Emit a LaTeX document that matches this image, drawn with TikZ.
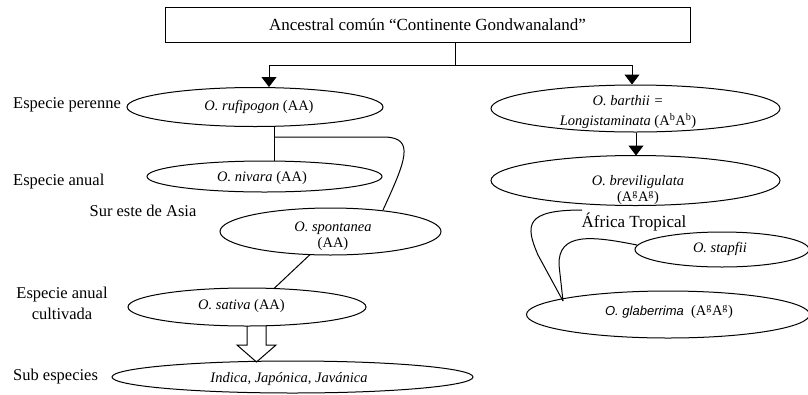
\documentclass[tikz,border=0pt]{standalone}
\usepackage{fontspec}
\setmainfont{Liberation Serif}
\setsansfont{Liberation Sans}
\usetikzlibrary{arrows.meta,shapes.geometric,calc}
\tikzset{
  ell/.style={draw, ellipse, inner sep=0pt, line width=1pt},
  lbl/.style={font=\fontsize{16.5}{21}\selectfont, inner sep=0pt},
  etxt/.style={font=\fontsize{14.5}{16}\selectfont, inner sep=0pt, align=center},
  conn/.style={line width=1pt},
  arr/.style={line width=1pt, -{Triangle[width=15pt,length=10pt]}},
}
\begin{document}
\begin{tikzpicture}[x=1pt,y=-1pt]
\useasboundingbox (0,0) rectangle (808,394);
\clip (0,0) rectangle (808,394);
% top box
\node[draw, line width=1pt, minimum width=525pt, minimum height=35pt, inner sep=0pt,
      font=\fontsize{17}{20}\selectfont] (box) at (427.5,24.5) {Ancestral común “Continente Gondwanaland”};
% ellipses
\node[ell, minimum width=256pt, minimum height=39pt] (ruf) at (255,107) {};
\node[ell, minimum width=235pt, minimum height=31pt] (niv) at (264.5,176.5) {};
\node[ell, minimum width=221pt, minimum height=47pt] (spo) at (330.5,231.5) {};
\node[ell, minimum width=238pt, minimum height=38pt] (sat) at (247,307) {};
\node[ell, minimum width=361pt, minimum height=32pt] (sub) at (292.5,377) {};
\node[ell, minimum width=289pt, minimum height=47pt] (bar) at (635.5,108.5) {};
\node[ell, minimum width=289pt, minimum height=50pt] (bre) at (635.5,180.5) {};
\node[ell, minimum width=174pt, minimum height=35pt] (sta) at (722,249.5) {};
\node[ell, minimum width=283pt, minimum height=47pt] (gla) at (668,314.5) {};
% ellipse texts
\node[etxt] (tRuf) at (259,107) {\textit{O. rufipogon} (AA)};
\node[etxt] (tNiv) at (262,178) {\textit{O. nivara} (AA)};
\node[etxt] (tSpo) at (333,236) {\textit{O. spontanea}\\(AA)};
\node[etxt] (tSat) at (241.5,306) {\textit{O. sativa} (AA)};
\node[etxt] (tSub) at (289,379) {\textit{Indica, Japónica, Javánica}};
\node[etxt, font=\fontsize{14.5}{20}\selectfont] (tBar) at (628,112) {\textit{O. barthii =}\\\textit{Longistaminata} (A\textsuperscript{b}A\textsuperscript{b})};
\node[etxt] (tBre) at (638,190) {\textit{O. breviligulata}\\(A\textsuperscript{g}A\textsuperscript{g})};
\node[etxt] (tSta) at (720,249) {\textit{O. stapfii}};
\node[etxt] (tGla) at (669,312) {{\sffamily\itshape\fontsize{13}{16}\selectfont O. glaberrima}\ \ (A\textsuperscript{g}A\textsuperscript{g})};
% side labels
\node[lbl, anchor=west] (lPer) at (13,105) {Especie perenne};
\node[lbl, anchor=west] (lAnu) at (13,182) {Especie anual};
\node[lbl] (lSur) at (143,211) {Sur este de Asia};
\node[lbl, align=center] (lCul) at (62,303) {Especie anual\\cultivada};
\node[lbl, anchor=west] (lSub) at (13,377) {Sub especies};
\node[lbl, font=\fontsize{17}{20}\selectfont] (lAfr) at (634,222) {África Tropical};
% top connectors
\coordinate (j) at (455,65);
\coordinate (aL) at (269,65);
\coordinate (aR) at (632,65);
\draw[conn] (box.south -| j) -- (j);
\draw[conn] (aL) -- (aR);
\draw[arr] (aL) -- (aL |- ruf.north);
\draw[arr] (aR) -- (aR |- bar.north);
% left tree
\coordinate (rn) at (274,137);
\draw[conn] (rn |- ruf.south) -- (rn |- niv.north);
\draw[conn] (rn) -- (385,137) .. controls (415,138) and (406,160) .. (383,210);
\coordinate (sp1) at (310,254.6);
\coordinate (sa1) at (274,288.5);
\draw[conn] (sp1) -- (sa1);
% hollow block arrow
\coordinate (ba) at (256.5,326);
\draw[conn] ($(ba)+(-9.5,0)$) -- ++(0,19) -- ++(-10,0) -- (256.5,362) -- ++(19.5,-17) -- ++(-10,0) -- ++(0,-19);
% right tree
\coordinate (bb) at (636,155.5);
\draw[arr] (bb |- bar.south) -- (bb);
\draw[conn] (582,210) .. controls (525,210) and (525,225) .. (538,255) -- (563,301);
\draw[conn] (637,245) .. controls (592,236) and (558,232) .. (559,265) -- (563,301);
\end{tikzpicture}
\end{document}
